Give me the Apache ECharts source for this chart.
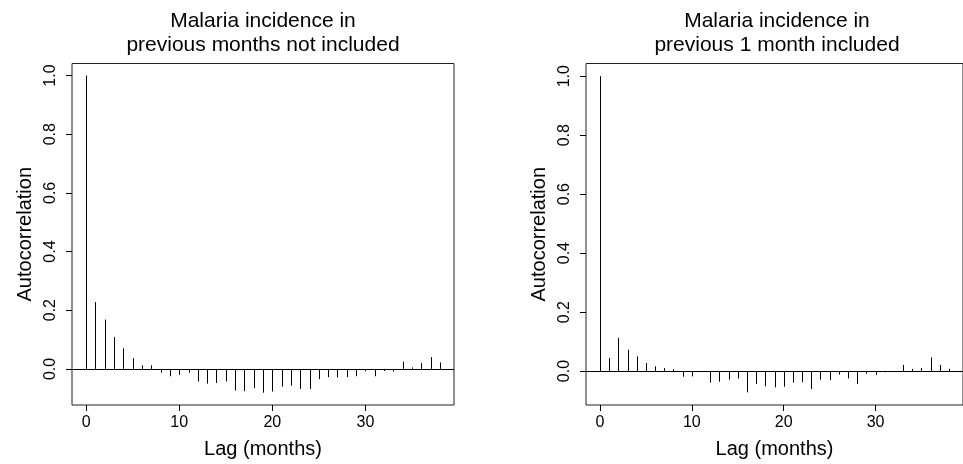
<!DOCTYPE html>
<html>
<head>
<meta charset="utf-8">
<script src="https://cdn.jsdelivr.net/npm/echarts@6/dist/echarts.min.js"></script>
<style>
html,body{margin:0;padding:0;background:#fff;}
#chart{width:963px;height:464px;}
</style>
</head>
<body>
<div id="chart"></div>
<script>
// ---- data ----
const lags = [0,1,2,3,4,5,6,7,8,9,10,11,12,13,14,15,16,17,18,19,20,21,22,23,24,25,26,27,28,29,30,31,32,33,34,35,36,37,38];
const acfNotIncluded = [1.0, 0.228, 0.168, 0.109, 0.070, 0.036, 0.012, 0.012, -0.013, -0.025, -0.020, -0.013, -0.043, -0.050, -0.048, -0.043, -0.074, -0.076, -0.066, -0.081, -0.077, -0.060, -0.057, -0.068, -0.068, -0.035, -0.028, -0.029, -0.028, -0.025, -0.008, -0.025, -0.007, -0.009, 0.025, 0.005, 0.020, 0.040, 0.022];
const acfOneMonth = [1.0, 0.044, 0.113, 0.072, 0.050, 0.027, 0.016, 0.010, 0.006, -0.019, -0.018, -0.002, -0.039, -0.036, -0.029, -0.025, -0.072, -0.044, -0.051, -0.055, -0.053, -0.039, -0.038, -0.061, -0.029, -0.031, -0.012, -0.025, -0.044, -0.009, -0.013, -0.004, -0.001, 0.021, 0.007, 0.010, 0.046, 0.021, 0.008];
const xTicks = [0, 10, 20, 30];
const yTicks = [0, 0.2, 0.4, 0.6, 0.8, 1.0];
const titles = ['Malaria incidence in\nprevious months not included', 'Malaria incidence in\nprevious 1 month included'];
const xName = 'Lag (months)';
const yName = 'Autocorrelation';

// ---- layout ----
const FONT = '"Liberation Sans", Arial, sans-serif';
const grids = [
  {left: 72, top: 63.5, width: 382, height: 343},
  {left: 586, top: 63.5, width: 382, height: 343}
];
const yRanges = [[-0.123, 1.041], [-0.115, 1.043]];
const xRange = [-1.52, 39.52];

function renderItem(params, api) {
  const x = api.value(0), y = api.value(1);
  const p0 = api.coord([x, 0]);
  const p1 = api.coord([x, y]);
  const cx = Math.round(p0[0]) + 0.5;
  return {
    type: 'line',
    shape: {x1: cx, y1: p0[1], x2: cx, y2: p1[1]},
    style: {stroke: '#000', lineWidth: 1}
  };
}

const chart = echarts.init(document.getElementById('chart'), null, {renderer: 'canvas'});
const series = [acfNotIncluded, acfOneMonth].map((vals, i) => ({
  type: 'custom',
  xAxisIndex: i,
  yAxisIndex: i,
  renderItem: renderItem,
  encode: {x: 0, y: 1},
  data: lags.map((l, k) => [l, vals[k]]),
  silent: true,
  markLine: {
    silent: true,
    symbol: ['none', 'none'],
    label: {show: false},
    lineStyle: {color: '#000', width: 1, type: 'solid'},
    data: [{yAxis: 0}]
  }
}));

chart.setOption({
  backgroundColor: '#fff',
  animation: false,
  title: titles.map((t, i) => ({
    text: t,
    left: grids[i].left + grids[i].width / 2,
    top: 9,
    padding: 0,
    textAlign: 'center',
    textStyle: {fontFamily: FONT, fontSize: 21, fontWeight: 'normal', color: '#000', lineHeight: 24}
  })),
  grid: grids.map(g => Object.assign({show: true, borderColor: '#222', borderWidth: 1, backgroundColor: 'transparent', containLabel: false}, g)),
  xAxis: grids.map((g, i) => ({
    type: 'value',
    gridIndex: i,
    position: 'bottom',
    min: xRange[0],
    max: xRange[1],
    splitLine: {show: false},
    axisLine: {show: false, onZero: false},
    axisTick: {show: true, inside: false, customValues: xTicks, length: 6, lineStyle: {color: '#000', width: 1}},
    axisLabel: {show: true, customValues: xTicks, margin: 10, fontFamily: FONT, fontSize: 16, color: '#000', formatter: v => String(v)},
    name: xName,
    nameLocation: 'middle',
    nameGap: 34,
    nameTextStyle: {fontFamily: FONT, fontSize: 20, color: '#000'}
  })),
  yAxis: grids.map((g, i) => ({
    type: 'value',
    gridIndex: i,
    position: 'left',
    min: yRanges[i][0],
    max: yRanges[i][1],
    splitLine: {show: false},
    axisLine: {show: false, onZero: false},
    axisTick: {show: true, inside: false, customValues: yTicks, length: 6, lineStyle: {color: '#000', width: 1}},
    axisLabel: {show: true, customValues: yTicks, rotate: 90, margin: 13, fontFamily: FONT, fontSize: 16, color: '#000', formatter: v => v.toFixed(1)},
    name: yName,
    nameLocation: 'middle',
    nameGap: 37,
    nameRotate: 90,
    nameTextStyle: {fontFamily: FONT, fontSize: 20, color: '#000'}
  })),
  series: series
});
</script>
</body>
</html>
